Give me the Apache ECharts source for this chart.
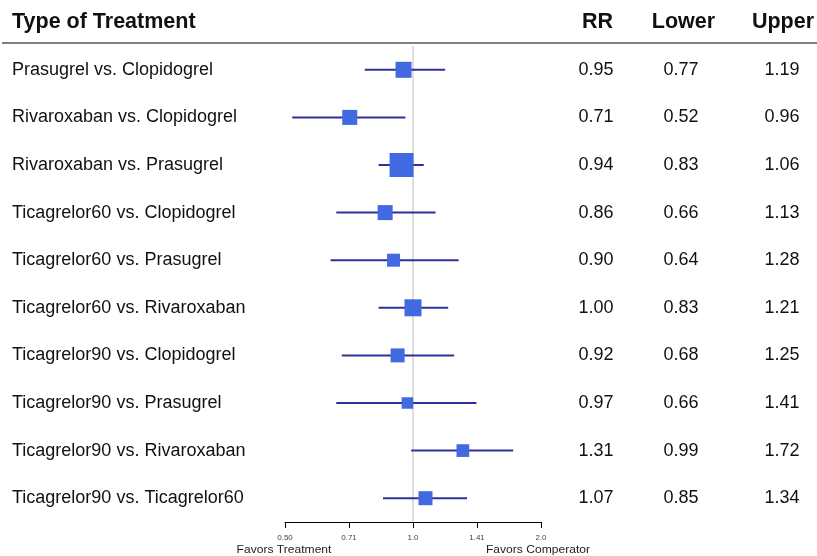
<!DOCTYPE html>
<html>
<head>
<meta charset="utf-8">
<script src="https://cdn.jsdelivr.net/npm/echarts@6/dist/echarts.min.js"></script>
<style>html,body{margin:0;padding:0;background:#fff}#c{width:817px;height:556px}</style>
</head>
<body>
<div id="c"></div>
<script>
const categories = [
  'Prasugrel vs. Clopidogrel',
  'Rivaroxaban vs. Clopidogrel',
  'Rivaroxaban vs. Prasugrel',
  'Ticagrelor60 vs. Clopidogrel',
  'Ticagrelor60 vs. Prasugrel',
  'Ticagrelor60 vs. Rivaroxaban',
  'Ticagrelor90 vs. Clopidogrel',
  'Ticagrelor90 vs. Prasugrel',
  'Ticagrelor90 vs. Rivaroxaban',
  'Ticagrelor90 vs. Ticagrelor60'
];
const rr    = [0.95, 0.71, 0.94, 0.86, 0.90, 1.00, 0.92, 0.97, 1.31, 1.07];
const lower = [0.77, 0.52, 0.83, 0.66, 0.64, 0.83, 0.68, 0.66, 0.99, 0.85];
const upper = [1.19, 0.96, 1.06, 1.13, 1.28, 1.21, 1.25, 1.41, 1.72, 1.34];
const tickLabels = ['0.50', '0.71', '1.0', '1.41', '2.0'];
const headers = ['RR', 'Lower', 'Upper'];

// styles (not data)
const boxSizes = [16, 15, 24, 15, 13, 17, 14, 11.5, 12.7, 14];
const colX = [596, 681, 782];
const headX = [597.5, 683.5, 783];
const FONT = '"Liberation Sans", Arial, sans-serif';

const rows = categories.map((c, i) => [i, rr[i], lower[i], upper[i]]);

const chart = echarts.init(document.getElementById('c'), null, {renderer: 'canvas'});
chart.setOption({
  animation: false,
  backgroundColor: '#fff',
  grid: {left: 285, right: 276, top: 46, height: 476},
  xAxis: {
    type: 'log', logBase: Math.SQRT2, min: 0.5, max: 2,
    axisLine: {show: true, lineStyle: {color: '#000', width: 1}},
    axisTick: {show: true, length: 6, lineStyle: {color: '#000', width: 1}},
    axisLabel: {
      fontSize: 8, color: '#444', margin: 12, fontFamily: FONT,
      formatter: function (v) {
        const k = Math.round(Math.log(v) / Math.log(Math.SQRT2)) + 2;
        return tickLabels[k] !== undefined ? tickLabels[k] : '';
      }
    },
    splitLine: {show: false},
    minorTick: {show: false}
  },
  yAxis: {
    type: 'category', data: categories, inverse: true,
    axisLine: {show: false}, axisTick: {show: false}, splitLine: {show: false},
    axisLabel: {align: 'left', margin: 273, fontSize: 18, color: '#111', fontFamily: FONT}
  },
  graphic: [
    {type: 'line', shape: {x1: 2, y1: 43, x2: 817, y2: 43}, style: {stroke: '#808080', lineWidth: 2}},
    {type: 'text', x: 12, y: 22, style: {text: 'Type of Treatment', font: 'bold 21.5px ' + FONT, fill: '#111', verticalAlign: 'middle', align: 'left'}},
    ...headers.map((h, i) => ({type: 'text', x: headX[i], y: 22, style: {text: h, font: 'bold 21.5px ' + FONT, fill: '#111', verticalAlign: 'middle', align: 'center'}})),
    {type: 'text', x: 284, y: 550, scaleX: 1.15, style: {text: 'Favors Treatment', font: '10.5px ' + FONT, fill: '#222', align: 'center', verticalAlign: 'middle'}},
    {type: 'text', x: 538, y: 550, scaleX: 1.15, style: {text: 'Favors Comperator', font: '10.5px ' + FONT, fill: '#222', align: 'center', verticalAlign: 'middle'}}
  ],
  series: [{
    type: 'custom',
    data: rows,
    encode: {x: [1, 2, 3], y: 0},
    clip: false,
    z: 3,
    renderItem: function (params, api) {
      const idx = api.value(0);
      const c = api.coord([api.value(1), idx]);
      const lo = api.coord([api.value(2), idx]);
      const hi = api.coord([api.value(3), idx]);
      const s = boxSizes[params.dataIndex];
      const vals = [api.value(1), api.value(2), api.value(3)];
      return {
        type: 'group',
        children: [
          {type: 'line', shape: {x1: lo[0], y1: c[1], x2: hi[0], y2: c[1]}, style: {stroke: '#30309c', lineWidth: 2}},
          {type: 'rect', shape: {x: c[0] - s / 2, y: c[1] - s / 2, width: s, height: s}, style: {fill: '#4169E1'}},
          ...vals.map((v, j) => ({
            type: 'text', x: colX[j], y: c[1],
            style: {text: v.toFixed(2), font: '18px ' + FONT, fill: '#111', align: 'center', verticalAlign: 'middle'}
          }))
        ]
      };
    },
    markLine: {
      silent: true, symbol: ['none', 'none'], z: 1,
      label: {show: false},
      lineStyle: {color: '#d3d3d3', width: 1.5, type: 'solid'},
      data: [{xAxis: 1}]
    }
  }]
});
</script>
</body>
</html>
